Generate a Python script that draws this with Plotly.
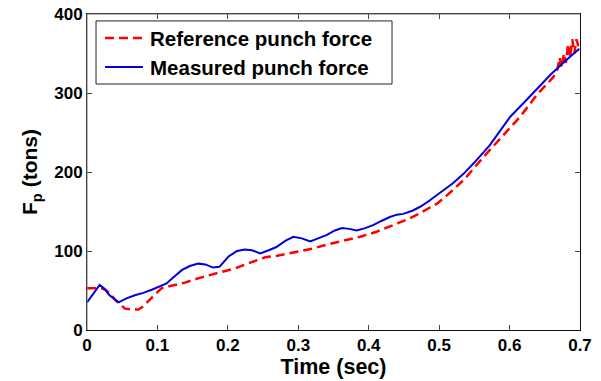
import plotly.graph_objects as go

# Reference punch force (red dashed)
ref_t = [0.000, 0.011, 0.020, 0.026, 0.033, 0.040, 0.047, 0.054, 0.063, 0.073, 0.080,
         0.086, 0.092, 0.100, 0.106, 0.120, 0.139, 0.160, 0.187, 0.210, 0.234, 0.253,
         0.270, 0.293, 0.320, 0.340, 0.365, 0.388, 0.410, 0.435, 0.455, 0.473, 0.497,
         0.513, 0.535, 0.563, 0.587, 0.615, 0.639, 0.662, 0.668, 0.671, 0.674, 0.677,
         0.680, 0.683, 0.686, 0.689, 0.692, 0.695, 0.698, 0.700]
ref_f = [53, 53, 53, 51, 46, 38, 32, 27, 26, 26, 30,
         35, 41, 48, 53, 56, 60, 66, 73, 78, 86, 92,
         94, 98, 103, 108, 113, 118, 124, 133, 140, 148, 160,
         172, 190, 219, 243, 270, 298, 320, 330, 345, 332, 350,
         338, 362, 345, 368, 350, 368, 358, 362]

# Measured punch force (blue solid)
mea_t = [0.000, 0.008, 0.018, 0.024, 0.032, 0.045, 0.056, 0.068, 0.080, 0.092, 0.103,
         0.113, 0.122, 0.135, 0.146, 0.158, 0.168, 0.179, 0.188, 0.201, 0.213, 0.224,
         0.234, 0.246, 0.258, 0.269, 0.282, 0.293, 0.305, 0.317, 0.328, 0.340, 0.352,
         0.362, 0.372, 0.383, 0.395, 0.407, 0.418, 0.430, 0.440, 0.449, 0.462, 0.473,
         0.485, 0.497, 0.513, 0.520, 0.535, 0.549, 0.572, 0.601, 0.625, 0.658, 0.681, 0.699]
mea_f = [35, 45, 57, 53, 44, 35, 40, 44, 47, 51, 55,
         59, 66, 76, 81, 84, 83, 79, 80, 93, 100, 102,
         101, 97, 101, 105, 113, 118, 116, 112, 116, 120, 126,
         129, 128, 126, 129, 133, 138, 143, 146, 147, 151, 156,
         163, 171, 181, 186, 198, 211, 234, 270, 292, 323, 342, 356]

series_names = ["Reference punch force", "Measured punch force"]
series_colors = ["#ff0000", "#0000dd"]

x_ticks = [0, 0.1, 0.2, 0.3, 0.4, 0.5, 0.6, 0.7]
x_tick_labels = ["0", "0.1", "0.2", "0.3", "0.4", "0.5", "0.6", "0.7"]
y_ticks = [0, 100, 200, 300, 400]
y_tick_labels = ["0", "100", "200", "300", "400"]

FONT = "Liberation Sans, Arial, sans-serif"
RED_DASH = "9px,5px"

fig = go.Figure()
fig.add_trace(go.Scatter(x=ref_t, y=ref_f, mode="lines", name=series_names[0],
                         line=dict(color=series_colors[0], width=2.5, dash=RED_DASH)))
fig.add_trace(go.Scatter(x=mea_t, y=mea_f, mode="lines", name=series_names[1],
                         line=dict(color=series_colors[1], width=2)))

axis_common = dict(showgrid=False, zeroline=False, showline=True, linecolor="#111",
                   linewidth=1, mirror="ticks", ticks="inside", ticklen=5, tickcolor="#444",
                   automargin=False,
                   tickfont=dict(family=FONT, size=17, color="black", weight="bold"))

# custom legend (box, line samples and labels) in paper coordinates
lg_x0, lg_x1, lg_y0, lg_y1 = 0.0183, 0.6187, 0.7785, 0.978
row_y = [0.924, 0.832]
shapes = [dict(type="rect", xref="paper", yref="paper", x0=lg_x0, x1=lg_x1, y0=lg_y0, y1=lg_y1,
               line=dict(color="#222", width=1), fillcolor="white", layer="above")]
annotations = []
dashes = [RED_DASH, "solid"]
widths = [2.5, 2]
for i in range(2):
    shapes.append(dict(type="line", xref="paper", yref="paper", x0=0.0365, x1=0.1136,
                       y0=row_y[i], y1=row_y[i], layer="above",
                       line=dict(color=series_colors[i], width=widths[i], dash=dashes[i])))
    annotations.append(dict(xref="paper", yref="paper", x=0.1238, y=row_y[i],
                            xanchor="left", yanchor="middle", showarrow=False,
                            text=series_names[i],
                            font=dict(family=FONT, size=20.5, color="black", weight="bold")))
# gray left and top frame edges
shapes.append(dict(type="line", xref="paper", yref="paper", x0=0, x1=0, y0=0, y1=1,
                   line=dict(color="#777", width=1), layer="above"))
shapes.append(dict(type="line", xref="paper", yref="paper", x0=0, x1=1, y0=1, y1=1,
                   line=dict(color="#777", width=1), layer="above"))

fig.update_layout(
    width=601, height=381,
    margin=dict(l=87, r=21, t=14, b=51),
    paper_bgcolor="white", plot_bgcolor="white",
    font=dict(family=FONT, color="black"),
    showlegend=False,
    shapes=shapes,
    annotations=annotations,
    xaxis=dict(range=[0, 0.7], tickvals=x_ticks, ticktext=x_tick_labels,
               title=dict(text="Time (sec)", standoff=4,
                          font=dict(family=FONT, size=21.5, color="black", weight="bold")),
               **axis_common),
    yaxis=dict(range=[0, 400], tickvals=y_ticks, ticktext=y_tick_labels,
               title=dict(text="F<sub>p</sub> (tons)", standoff=10,
                          font=dict(family=FONT, size=21, color="black", weight="bold")),
               **axis_common),
)

fig.write_html("out.html")
